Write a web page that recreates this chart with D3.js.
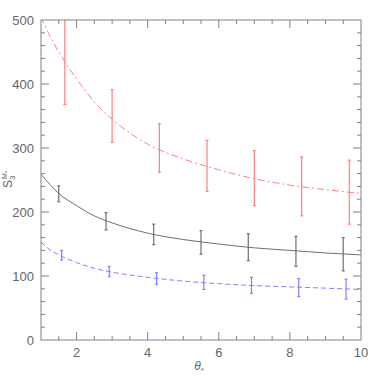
<!DOCTYPE html>
<html>
<head>
<meta charset="utf-8">
<script src="https://cdn.jsdelivr.net/npm/d3@7"></script>
<style>
	body { margin: 0; background: #fff; }
	svg { display: block; }
	text { font-family: 'Liberation Sans', Arial, sans-serif; fill: #666; }
</style>
</head>
<body>
<div class="chart"></div>
<script>
const WIDTH = 381
const HEIGHT = 381
const margin = { top: 20, right: 20, bottom: 41, left: 41 }

const X_DOMAIN = [1, 10]
const Y_DOMAIN = [0, 500]
const xTicks = [2, 4, 6, 8, 10]
const yTicks = [0, 100, 200, 300, 400, 500]

// measured points with symmetric errors
const redX = [1.67, 3.0, 4.33, 5.67, 7.0, 8.33, 9.67]
const redY = [437, 350, 300, 272, 253, 240, 231]
const redErr = [69, 41, 38, 40, 43, 46, 50]

const blackX = [1.5, 2.83, 4.17, 5.5, 6.83, 8.17, 9.5]
const blackY = [228.5, 185.5, 165, 152.5, 145, 138.5, 134]
const blackErr = [12.5, 13.5, 16, 18.5, 21, 23.5, 26]

const blueX = [1.58, 2.92, 4.25, 5.58, 6.92, 8.25, 9.58]
const blueY = [132.5, 107, 96, 90, 85.5, 82, 79.5]
const blueErr = [7.5, 8, 9, 11, 12.5, 14, 15.5]

// model curves
const curveX = [1, 1.25, 1.5, 2, 2.5, 3, 4, 5, 6, 7, 8, 9, 10]
const redCurve = [505, 475, 450, 408, 372, 345, 306, 283, 266, 252, 242, 235, 229]
const blackCurve = [259, 243, 229, 210, 194, 183, 167, 157, 150, 144, 140, 136, 133]
const blueCurve = [153, 141, 133, 121, 112, 106, 98, 92, 88, 85, 83, 81, 79]

const series = [
	{ key: 'red', color: '#ff8080', dash: '7,3,2,3', xs: redX, ys: redY, errs: redErr, curve: redCurve },
	{ key: 'black', color: '#707070', dash: null, xs: blackX, ys: blackY, errs: blackErr, curve: blackCurve },
	{ key: 'blue', color: '#8080ff', dash: '5,3', xs: blueX, ys: blueY, errs: blueErr, curve: blueCurve },
]

const AXIS_COLOR = '#808080'
const chartWidth = WIDTH - margin.left - margin.right
const chartHeight = HEIGHT - margin.top - margin.bottom

const scaleX = d3.scaleLinear().domain(X_DOMAIN).range([0, chartWidth])
const scaleY = d3.scaleLinear().domain(Y_DOMAIN).range([chartHeight, 0])

const svg = d3.select('.chart').append('svg')
	.attr('width', WIDTH)
	.attr('height', HEIGHT)

svg.append('defs').append('clipPath')
	.attr('id', 'clip')
	.append('rect')
	.attr('width', chartWidth)
	.attr('height', chartHeight)

const g = svg.append('g')
	.attr('transform', `translate(${margin.left}, ${margin.top})`)

const plot = g.append('g').attr('clip-path', 'url(#clip)')

const line = d3.line()
	.x(d => scaleX(d[0]))
	.y(d => scaleY(d[1]))
	.curve(d3.curveMonotoneX)

series.forEach(s => {
	const path = plot.append('path')
		.datum(curveX.map((x, i) => [x, s.curve[i]]))
		.attr('d', line)
		.attr('fill', 'none')
		.attr('stroke', s.color)
		.attr('stroke-width', 1)
	if (s.dash) path.attr('stroke-dasharray', s.dash)

	const pts = s.xs.map((x, i) => ({ x, y: s.ys[i], e: s.errs[i] }))
	const bar = plot.selectAll(`.bar--${s.key}`).data(pts)
		.enter().append('g')
		.attr('class', `bar--${s.key}`)
		.attr('stroke', s.color)
		.attr('stroke-width', 1.2)

	bar.append('line')
		.attr('x1', d => scaleX(d.x))
		.attr('x2', d => scaleX(d.x))
		.attr('y1', d => scaleY(d.y - d.e))
		.attr('y2', d => scaleY(d.y + d.e))

	bar.selectAll('.cap').data(d => [
		{ x: d.x, y: d.y - d.e },
		{ x: d.x, y: d.y + d.e },
	])
		.enter().append('line')
		.attr('class', 'cap')
		.attr('x1', d => scaleX(d.x) - 1.5)
		.attr('x2', d => scaleX(d.x) + 1.5)
		.attr('y1', d => scaleY(d.y))
		.attr('y2', d => scaleY(d.y))
})

// frame with inward ticks on all sides
const axis = g.append('g').attr('class', 'g-axis')

axis.append('rect')
	.attr('width', chartWidth)
	.attr('height', chartHeight)
	.attr('fill', 'none')
	.attr('stroke', AXIS_COLOR)
	.attr('stroke-width', 1)

const minorX = d3.range(X_DOMAIN[0] + 0.5, X_DOMAIN[1], 0.5)
const minorY = d3.range(20, Y_DOMAIN[1], 20)

function tickLen(v, step) {
	return Math.abs(v / step - Math.round(v / step)) < 1e-6 ? 8 : 4
}

const ticks = axis.append('g')
	.attr('stroke', AXIS_COLOR)
	.attr('stroke-width', 1)

minorX.forEach(v => {
	const x = scaleX(v)
	const len = tickLen(v, 2)
	ticks.append('line').attr('x1', x).attr('x2', x).attr('y1', chartHeight).attr('y2', chartHeight - len)
	ticks.append('line').attr('x1', x).attr('x2', x).attr('y1', 0).attr('y2', len)
})

minorY.forEach(v => {
	const y = scaleY(v)
	const len = tickLen(v, 100)
	ticks.append('line').attr('x1', 0).attr('x2', len).attr('y1', y).attr('y2', y)
	ticks.append('line').attr('x1', chartWidth).attr('x2', chartWidth - len).attr('y1', y).attr('y2', y)
})

axis.selectAll('.label--x').data(xTicks)
	.enter().append('text')
	.attr('class', 'label--x')
	.attr('x', d => scaleX(d))
	.attr('y', chartHeight + 17)
	.attr('text-anchor', 'middle')
	.style('font-size', '13px')
	.text(d => d)

axis.selectAll('.label--y').data(yTicks)
	.enter().append('text')
	.attr('class', 'label--y')
	.attr('x', -7)
	.attr('y', d => scaleY(d) + 4.5)
	.attr('text-anchor', 'end')
	.style('font-size', '13px')
	.text(d => d)

// x axis title: theta_*
const xt = axis.append('text')
	.attr('x', scaleX(5.5) - 2)
	.attr('y', chartHeight + 30)
	.attr('text-anchor', 'middle')
	.style('font-size', '12px')
xt.append('tspan').style('font-style', 'italic').text('θ')
xt.append('tspan').attr('dy', 3).style('font-size', '8px').text('*')

// y axis title: S_3^{M*}
const yt = svg.append('g')
	.attr('transform', `translate(11.5, 188) rotate(-90)`)
const ytText = yt.append('text')
	.attr('text-anchor', 'start')
	.style('font-size', '12px')
ytText.append('tspan').text('S')
ytText.append('tspan').attr('dy', 3).style('font-size', '8px').text('3')
yt.append('text')
	.attr('x', 9)
	.attr('y', -5)
	.style('font-size', '7px')
	.text('M')
yt.append('text')
	.attr('x', 15)
	.attr('y', -3)
	.style('font-size', '6px')
	.text('*')
</script>
</body>
</html>
